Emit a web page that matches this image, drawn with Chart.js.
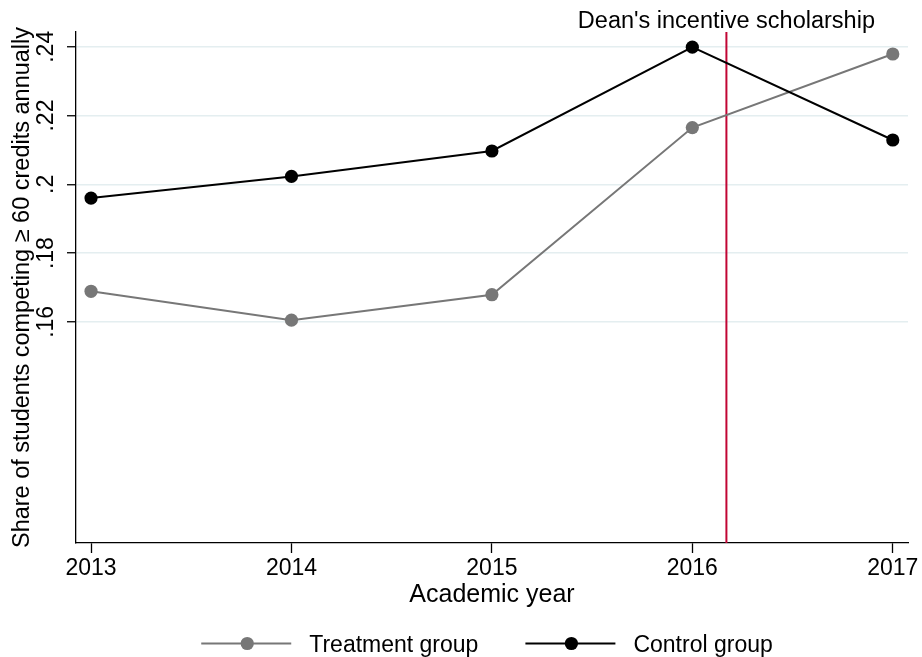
<!DOCTYPE html>
<html>
<head>
<meta charset="utf-8">
<script src="https://cdn.jsdelivr.net/npm/chart.js@4/dist/chart.umd.min.js"></script>
<style>
  html, body { margin: 0; padding: 0; background: #ffffff; }
  #wrap { width: 922px; height: 657px; }
</style>
</head>
<body>
<div id="wrap"><canvas id="c" width="922" height="657"></canvas></div>
<script>
// Academic years and group shares
const years = [2013, 2014, 2015, 2016, 2017];
const treatment = [0.1689, 0.1605, 0.1679, 0.2165, 0.2379];
const control = [0.1960, 0.2023, 0.2097, 0.2399, 0.2129];
const seriesNames = ['Treatment group', 'Control group'];

// Axis ticks and titles
const yTicks = [0.16, 0.18, 0.20, 0.22, 0.24];
const yTickLabels = ['.16', '.18', '.2', '.22', '.24'];
const xTitle = 'Academic year';
const yTitle = 'Share of students competing \u2265 60 credits annually';

// Policy introduction marker
const eventYear = 2016.17;
const eventLabel = "Dean's incentive scholarship";

const FONT = "'Liberation Sans', Arial, Helvetica, sans-serif";

const toPoints = vals => years.map((yr, i) => ({ x: yr, y: vals[i] }));

// Vertical reference line with its caption above the plot
const eventLinePlugin = {
  id: 'eventLine',
  beforeDatasetsDraw(chart) {
    const { ctx, chartArea, scales } = chart;
    const x = scales.x.getPixelForValue(eventYear);
    ctx.save();
    ctx.strokeStyle = '#c10534';
    ctx.lineWidth = 2;
    ctx.beginPath();
    ctx.moveTo(x, chartArea.top);
    ctx.lineTo(x, chartArea.bottom);
    ctx.stroke();
    ctx.fillStyle = '#000';
    ctx.font = '23.5px ' + FONT;
    ctx.textAlign = 'center';
    ctx.textBaseline = 'alphabetic';
    ctx.fillText(eventLabel, x, 27.5);
    ctx.restore();
  }
};

// Legend row: line sample with marker, then the series name
const lineLegendPlugin = {
  id: 'lineLegend',
  afterDraw(chart) {
    const { ctx, chartArea } = chart;
    const sampleLen = 90, textGap = 18, itemGap = 47, y = 643.5;
    ctx.save();
    ctx.font = '23px ' + FONT;
    const items = chart.data.datasets.map(ds => ({
      ds, w: sampleLen + textGap + ctx.measureText(ds.label).width
    }));
    const total = items.reduce((s, it) => s + it.w, 0) + itemGap * (items.length - 1);
    let x = (chartArea.left + chartArea.right) / 2 - total / 2 - 5;
    items.forEach(({ ds, w }) => {
      ctx.strokeStyle = ds.borderColor;
      ctx.lineWidth = ds.borderWidth;
      ctx.beginPath();
      ctx.moveTo(x, y);
      ctx.lineTo(x + sampleLen, y);
      ctx.stroke();
      ctx.fillStyle = ds.pointBackgroundColor;
      ctx.beginPath();
      ctx.arc(x + 46, y, ds.pointRadius, 0, Math.PI * 2);
      ctx.fill();
      ctx.fillStyle = '#000';
      ctx.textAlign = 'left';
      ctx.textBaseline = 'alphabetic';
      ctx.fillText(ds.label, x + sampleLen + textGap, 652);
      x += w + itemGap;
    });
    ctx.restore();
  }
};

new Chart(document.getElementById('c'), {
  type: 'line',
  data: {
    datasets: [
      {
        label: seriesNames[0],
        data: toPoints(treatment),
        borderColor: '#777777',
        backgroundColor: '#777777',
        pointBackgroundColor: '#777777',
        borderWidth: 2,
        pointRadius: 6.6,
        pointBorderWidth: 0,
        tension: 0,
        order: 2
      },
      {
        label: seriesNames[1],
        data: toPoints(control),
        borderColor: '#000000',
        backgroundColor: '#000000',
        pointBackgroundColor: '#000000',
        borderWidth: 2,
        pointRadius: 6.6,
        pointBorderWidth: 0,
        tension: 0,
        order: 1
      }
    ]
  },
  options: {
    responsive: false,
    devicePixelRatio: 1,
    animation: false,
    layout: { padding: { top: 32, right: 14, bottom: 47, left: 0 } },
    plugins: {
      legend: { display: false },
      tooltip: { enabled: false },
      title: { display: false }
    },
    scales: {
      x: {
        type: 'linear',
        min: 2012.925,
        max: 2017.076,
        afterBuildTicks(scale) { scale.ticks = years.map(v => ({ value: v })); },
        afterFit(scale) { scale.height = 67; },
        border: { display: true, color: '#000', width: 1.3 },
        grid: { drawOnChartArea: false, drawTicks: true, tickLength: 10, tickColor: '#000', tickWidth: 1.3 },
        ticks: {
          color: '#000',
          font: { family: FONT, size: 23 },
          padding: 2,
          maxRotation: 0,
          minRotation: 0,
          callback: v => String(v)
        },
        title: {
          display: true,
          text: xTitle,
          color: '#000',
          font: { family: FONT, size: 25 },
          padding: { top: 0, bottom: 0 }
        }
      },
      y: {
        type: 'linear',
        min: 0.0957,
        max: 0.2443,
        afterBuildTicks(scale) { scale.ticks = yTicks.map(v => ({ value: v })); },
        afterFit(scale) { scale.width = 76; },
        border: { display: true, color: '#000', width: 1.3 },
        grid: { color: '#e4eef0', lineWidth: 1.5, drawTicks: true, tickLength: 9, tickColor: '#000', tickWidth: 1.3 },
        ticks: {
          color: '#000',
          font: { family: FONT, size: 23 },
          padding: 4,
          minRotation: 90,
          maxRotation: 90,
          crossAlign: 'center',
          callback: (v) => {
            const i = yTicks.findIndex(t => Math.abs(t - v) < 1e-9);
            return i >= 0 ? yTickLabels[i] : '';
          }
        },
        title: {
          display: true,
          text: yTitle,
          color: '#000',
          font: { family: FONT, size: 23.5 },
          padding: { top: 8, bottom: 0 }
        }
      }
    }
  },
  plugins: [eventLinePlugin, lineLegendPlugin]
});
</script>
</body>
</html>
